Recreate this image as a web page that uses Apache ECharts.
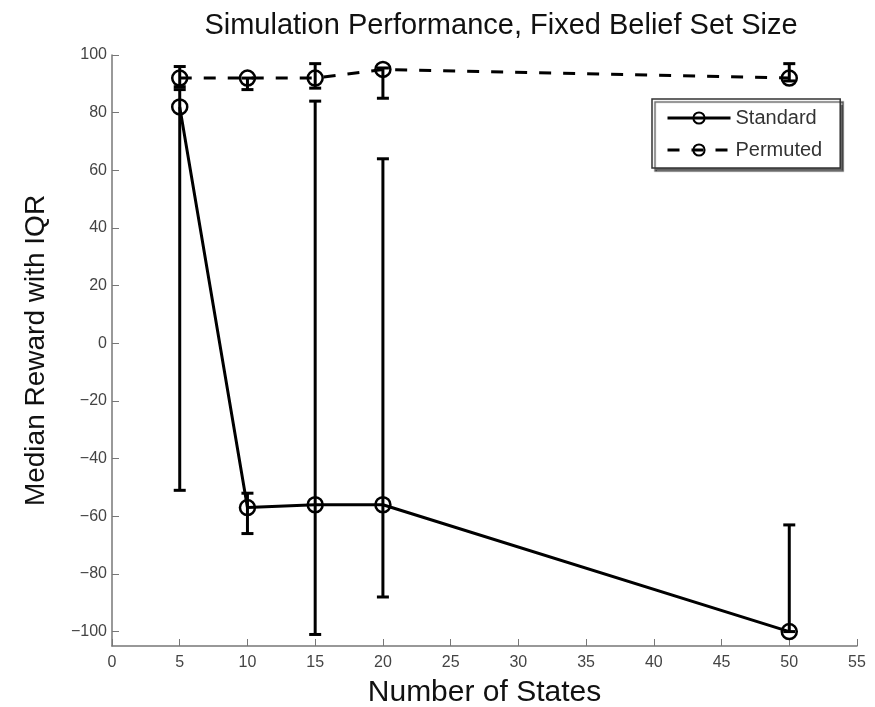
<!DOCTYPE html>
<html>
<head>
<meta charset="utf-8">
<script src="https://cdn.jsdelivr.net/npm/echarts@6/dist/echarts.min.js"></script>
<style>html,body{margin:0;padding:0;background:#fff;}#c{width:875px;height:707px;}</style>
</head>
<body>
<div id="c"></div>
<script>
const states = [5, 10, 15, 20, 50];
const standardMedian = [82, -57, -56, -56, -100];
const standardLow = [-51, -66, -101, -88, -100];
const standardHigh = [88, -52, 84, 64, -63];
const permutedMedian = [92, 92, 92, 95, 92];
const permutedLow = [89, 88, 88.5, 85, 91];
const permutedHigh = [96, 92, 97, 95.5, 97];
const yTicks = [-100, -80, -60, -40, -20, 0, 20, 40, 60, 80, 100];

const chart = echarts.init(document.getElementById('c'));
const font = 'Liberation Sans, Arial, sans-serif';

function errSeries(lows, highs, name) {
  return {
    type: 'custom',
    name: name + ' IQR',
    data: states.map((s, i) => [s, lows[i], highs[i]]),
    z: 3,
    renderItem: function (params, api) {
      const x = api.value(0);
      const lo = api.coord([x, api.value(1)]);
      const hi = api.coord([x, api.value(2)]);
      const w = 6;
      const st = { stroke: '#000', lineWidth: 3 };
      return {
        type: 'group',
        children: [
          { type: 'line', shape: { x1: lo[0], y1: lo[1], x2: hi[0], y2: hi[1] }, style: st },
          { type: 'line', shape: { x1: lo[0] - w, y1: lo[1], x2: lo[0] + w, y2: lo[1] }, style: st },
          { type: 'line', shape: { x1: hi[0] - w, y1: hi[1], x2: hi[0] + w, y2: hi[1] }, style: st }
        ]
      };
    }
  };
}

chart.setOption({
  animation: false,
  backgroundColor: '#fff',
  title: {
    text: 'Simulation Performance, Fixed Belief Set Size',
    left: 496, textAlign: 'center', top: 6,
    textStyle: { fontFamily: font, fontSize: 29, fontWeight: 'normal', color: '#111' }
  },
  grid: { left: 112, right: 18, top: 55, bottom: 61, outerBoundsMode: 'none', containLabel: false },
  legend: {
    data: ['Standard', 'Permuted'],
    orient: 'vertical',
    left: 652, top: 99,
    itemWidth: 63, itemHeight: 14, itemGap: 12,
    padding: [9, 18, 8, 14],
    borderColor: '#333', borderWidth: 1.5,
    backgroundColor: '#fff',
    shadowColor: 'rgba(0,0,0,0.6)', shadowOffsetX: 3, shadowOffsetY: 3, shadowBlur: 1,
    lineStyle: { width: 3 },
    textStyle: { fontFamily: font, fontSize: 20, color: '#333' }
  },
  xAxis: {
    type: 'value', min: 0, max: 55, interval: 5,
    name: 'Number of States', nameLocation: 'middle', nameGap: 32,
    nameTextStyle: { fontFamily: font, fontSize: 30, color: '#111' },
    axisLine: { onZero: false, lineStyle: { color: '#777', width: 1.5 } },
    axisTick: { inside: true, length: 7, lineStyle: { color: '#777' } },
    axisLabel: { fontFamily: font, fontSize: 16, color: '#444', margin: 9 },
    splitLine: { show: false }
  },
  yAxis: {
    type: 'value', min: -105, max: 100,
    name: 'Median Reward with IQR', nameLocation: 'middle', nameGap: 62,
    nameTextStyle: { fontFamily: font, fontSize: 28, color: '#111' },
    axisLine: { show: true, onZero: false, lineStyle: { color: '#777', width: 1.5 } },
    axisTick: { show: true, inside: true, length: 7, customValues: yTicks, lineStyle: { color: '#777' } },
    axisLabel: { fontFamily: font, fontSize: 16, color: '#444', margin: 5, customValues: yTicks,
      formatter: v => String(v).replace('-', '\u2212') },
    splitLine: { show: false }
  },
  series: [
    errSeries(standardLow, standardHigh, 'Standard'),
    errSeries(permutedLow, permutedHigh, 'Permuted'),
    {
      name: 'Standard', type: 'line', z: 4,
      data: states.map((s, i) => [s, standardMedian[i]]),
      symbol: 'circle', symbolSize: 15,
      lineStyle: { color: '#000', width: 3 },
      itemStyle: { color: 'rgba(255,255,255,0)', borderWidth: 2.5, borderColor: '#000' }
    },
    {
      name: 'Permuted', type: 'line', z: 4,
      data: states.map((s, i) => [s, permutedMedian[i]]),
      symbol: 'circle', symbolSize: 15,
      lineStyle: { color: '#000', width: 3, type: [12, 12] },
      itemStyle: { color: 'rgba(255,255,255,0)', borderWidth: 2.5, borderColor: '#000' }
    }
  ]
});
</script>
</body>
</html>
